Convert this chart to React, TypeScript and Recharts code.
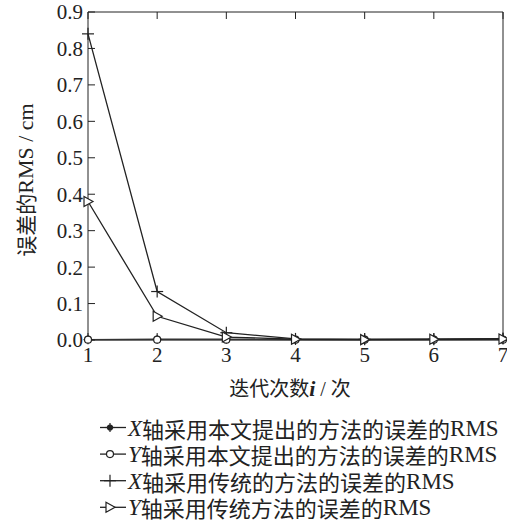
import React from 'react';
import { LineChart, Line, XAxis, YAxis, Label } from 'recharts';

const iterations = [1, 2, 3, 4, 5, 6, 7];
const xProposed = [0.001, 0.002, 0.002, 0.001, 0.001, 0.001, 0.002];
const yProposed = [0.001, 0.001, 0.001, 0.001, 0.001, 0.001, 0.001];
const xTraditional = [0.84, 0.133, 0.02, 0.003, 0.002, 0.002, 0.004];
const yTraditional = [0.38, 0.065, 0.008, 0.002, 0.001, 0.002, 0.003];
const yTicks = [0, 0.1, 0.2, 0.3, 0.4, 0.5, 0.6, 0.7, 0.8, 0.9];

const INK = '#222';
const SERIF = '"Liberation Serif", "Noto Sans CJK SC", serif';
const CJK = '"Noto Sans CJK SC", "Liberation Serif", serif';

const data = iterations.map((it, i) => ({
  it,
  xp: xProposed[i],
  yp: yProposed[i],
  xt: xTraditional[i],
  yt: yTraditional[i],
}));

type MarkerKind = 'star' | 'circle' | 'plus' | 'triangle';

function Marker({ kind, cx, cy }: { kind: MarkerKind; cx: number; cy: number }) {
  if (kind === 'star') {
    return (
      <g stroke={INK} strokeWidth={1.2}>
        <circle cx={cx} cy={cy} r={2.5} fill={INK} />
        <line x1={cx - 4.5} y1={cy} x2={cx + 4.5} y2={cy} />
        <line x1={cx} y1={cy - 4.5} x2={cx} y2={cy + 4.5} />
      </g>
    );
  }
  if (kind === 'circle') {
    return <circle cx={cx} cy={cy} r={3.5} fill="#fff" stroke={INK} strokeWidth={1.2} />;
  }
  if (kind === 'plus') {
    return (
      <g stroke={INK} strokeWidth={1.2}>
        <line x1={cx - 6} y1={cy} x2={cx + 6} y2={cy} />
        <line x1={cx} y1={cy - 6} x2={cx} y2={cy + 6} />
      </g>
    );
  }
  return (
    <polygon
      points={`${cx - 4},${cy - 5} ${cx + 5},${cy} ${cx - 4},${cy + 5}`}
      fill="#fff"
      stroke={INK}
      strokeWidth={1.2}
    />
  );
}

const series: { key: string; axis: string; rest: string; marker: MarkerKind; color: string }[] = [
  { key: 'xp', axis: 'X', rest: '轴采用本文提出的方法的误差的', marker: 'star', color: '#333' },
  { key: 'yp', axis: 'Y', rest: '轴采用本文提出的方法的误差的', marker: 'circle', color: '#444' },
  { key: 'xt', axis: 'X', rest: '轴采用传统的方法的误差的', marker: 'plus', color: INK },
  { key: 'yt', axis: 'Y', rest: '轴采用传统方法的误差的', marker: 'triangle', color: INK },
];

const tickStyle = { fill: INK, fontSize: 21, fontFamily: SERIF };

export default function App() {
  return (
    <div style={{ position: 'absolute', left: 0, top: 0, width: 507, height: 524, background: '#fff' }}>
      <LineChart width={507} height={524} data={data} margin={{ top: 11, right: 3, left: 0, bottom: 154 }}>
        <XAxis
          dataKey="it"
          type="number"
          domain={[1, 7]}
          ticks={iterations}
          axisLine={{ stroke: INK }}
          tickLine={{ stroke: INK }}
          tickSize={-7}
          tickMargin={14}
          tick={tickStyle}
          height={30}
          interval={0}
        >
          <Label
            content={() => (
              <text x={290} y={396} textAnchor="middle" fill={INK} fontSize={20} fontFamily={CJK}>
                迭代次数
                <tspan fontFamily={SERIF} fontStyle="italic" fontWeight="bold" fontSize={22}>i</tspan>
                <tspan fontFamily={SERIF}> / </tspan>
                次
              </text>
            )}
          />
        </XAxis>
        <XAxis
          xAxisId="top"
          orientation="top"
          dataKey="it"
          type="number"
          domain={[1, 7]}
          ticks={iterations}
          axisLine={{ stroke: INK }}
          tickLine={{ stroke: INK }}
          tickSize={-7}
          tickFormatter={() => ''}
          height={1}
        />
        <YAxis
          domain={[0, 0.9]}
          ticks={yTicks}
          axisLine={{ stroke: INK }}
          tickLine={{ stroke: INK }}
          tickSize={-7}
          tickMargin={12}
          tick={tickStyle}
          tickFormatter={(v: number) => v.toFixed(1)}
          width={88}
          interval={0}
        >
          <Label
            content={() => (
              <text
                x={28}
                y={180}
                transform="rotate(-90 28 180)"
                textAnchor="middle"
                dominantBaseline="middle"
                fill={INK}
                fontSize={21}
                fontFamily={CJK}
              >
                误差的<tspan fontFamily={SERIF} fontSize={22}>RMS / cm</tspan>
              </text>
            )}
          />
        </YAxis>
        <YAxis
          yAxisId="right"
          orientation="right"
          domain={[0, 0.9]}
          ticks={yTicks}
          axisLine={{ stroke: INK }}
          tickLine={{ stroke: INK }}
          tickSize={-7}
          tickFormatter={() => ''}
          width={1}
        />
        {series.map((s) => (
          <Line
            key={s.key}
            dataKey={s.key}
            stroke={s.color}
            strokeWidth={1.3}
            isAnimationActive={false}
            dot={(p: any) => <Marker key={`${s.key}-${p.index}`} kind={s.marker} cx={p.cx} cy={p.cy} />}
            activeDot={false}
          />
        ))}
      </LineChart>
      {/* legend below the plot */}
      <svg style={{ position: 'absolute', left: 98, top: 404, overflow: 'visible' }} width={409} height={120}>
        {series.map((s, i) => {
          const y = 23.5 + i * 26.6;
          return (
            <g key={s.key}>
              <line x1={2} y1={y} x2={28} y2={y} stroke={INK} strokeWidth={1.3} />
              <Marker kind={s.marker} cx={12} cy={y} />
              <text x={30} y={y} dominantBaseline="central" fill={INK} fontSize={22} fontFamily={CJK}>
                <tspan fontFamily={SERIF} fontStyle="italic" fontSize={23}>{s.axis}</tspan>
                {s.rest}
                <tspan fontFamily={SERIF} fontSize={23}>RMS</tspan>
              </text>
            </g>
          );
        })}
      </svg>
    </div>
  );
}
